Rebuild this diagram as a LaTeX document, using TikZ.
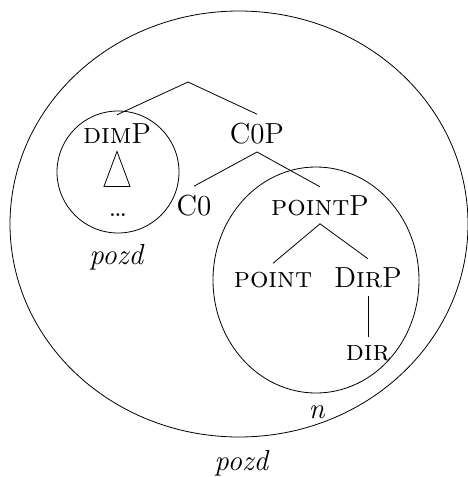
\documentclass[tikz,border=0pt]{standalone}
\usepackage{tikz}
\usetikzlibrary{positioning}

\tikzset{
	cat/.style={anchor=base,inner sep=4pt,font=\fontsize{14.5}{17}\selectfont},
	edge/.style={thin,black}
}

\begin{document}
\begin{tikzpicture}[x=0.5pt,y=-0.5pt]
		\useasboundingbox (0,0) rectangle (467,477);
		% regions
		\draw (239,224) ellipse [x radius=229, y radius=213];
		\draw (118,172) circle (61);
		\draw (316,280) ellipse [x radius=103, y radius=113];
		% tree
		\coordinate (root) at (188,82);
		\node[cat] (dimP) at (117,143) {\textsc{dim}P};
		\node[cat] (copP) at (257,143) {C0P};
		\node[cat] (dots) at (118,216) {\dots};
		\node[cat] (c0) at (194,215) {C0};
		\node[cat] (pointP) at (320,215) {\textsc{point}P};
		\node[cat] (point) at (273,287) {\textsc{point}};
		\node[cat] (dirP) at (368,287) {D\textsc{ir}P};
		\node[cat] (dir) at (368,360) {\textsc{dir}};
		\node[cat] (pozdin) at (117,264) {\textit{pozd}};
		\node[cat] (n) at (317,418) {\textit{n}};
		\node[cat] (pozdout) at (242,470) {\textit{pozd}};
		\draw[edge] (dimP.north) -- (root) -- (copP.north);
		\draw[edge] (c0.north) -- (copP.south) -- (pointP.north);
		\draw[edge] (point.north) -- (pointP.south) -- (dirP.north);
		\draw[edge] (dirP.south) -- (dir.north);
		\draw[edge] (dimP.south) -- ++(-13,35) -- ++(26,0) -- cycle;
	\end{tikzpicture}
\end{document}
